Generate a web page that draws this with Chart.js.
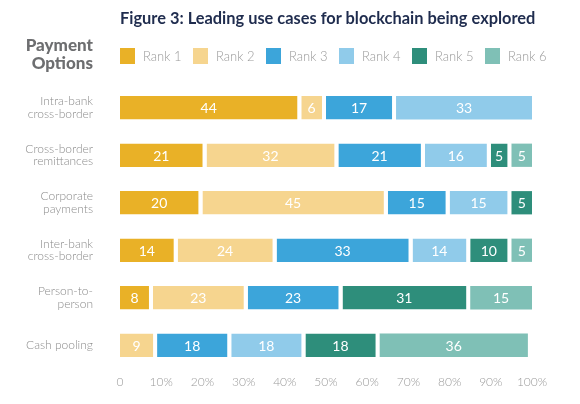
<!DOCTYPE html>
<html lang="en">
<head>
    <meta charset="UTF-8">
    <title>Leading use cases for blockchain</title>
    <script src="https://cdn.jsdelivr.net/npm/chart.js"></script>
    <style>
        html, body { margin: 0; padding: 0; background: #fff; }
        #wrap { position: relative; width: 580px; height: 404px; font-family: "Lato", "Open Sans", sans-serif; }
        #chart { position: absolute; left: 0; top: 0; }
        .title { position: absolute; left: 120px; top: 8px; font-size: 16.4px; font-weight: 700; color: #1f2c4e; white-space: nowrap; }
        .side { position: absolute; right: 487px; top: 36px; font-size: 17px; font-weight: 900; color: #6d6e70; text-align: right; line-height: 18px; }
        #legend { position: absolute; left: 120px; top: 48px; }
        .item { position: absolute; top: 0; white-space: nowrap; font-size: 13px; color: #9a9a9a; font-weight: 300; line-height: 16px; }
        .item span { display: inline-block; width: 15px; height: 16px; vertical-align: top; margin-right: 8px; }
    </style>
</head>
<body>
<div id="wrap">
    <canvas id="chart" width="580" height="404"></canvas>
    <div class="title">Figure 3: Leading use cases for blockchain being explored</div>
    <div class="side">Payment<br>Options</div>
    <div id="legend"></div>
</div>

<script>
// categories (top to bottom)
const categories = [
    ["Intra-bank", "cross-border"],
    ["Cross-border", "remittances"],
    ["Corporate", "payments"],
    ["Inter-bank", "cross-border"],
    ["Person-to-", "person"],
    "Cash pooling"
];

// share of respondents per rank, %
const rank1 = [44, 21, 20, 14, 8, 0];
const rank2 = [6, 32, 45, 24, 23, 9];
const rank3 = [17, 21, 15, 33, 23, 18];
const rank4 = [33, 16, 15, 14, 0, 18];
const rank5 = [0, 5, 5, 10, 31, 18];
const rank6 = [0, 5, 0, 5, 15, 36];

const rankNames = ["Rank 1", "Rank 2", "Rank 3", "Rank 4", "Rank 5", "Rank 6"];
const rankColors = ["#e9b127", "#f6d58f", "#3ca5da", "#90cbea", "#2e8e7b", "#7fc0b6"];
const xTickLabels = ["0", "10%", "20%", "30%", "40%", "50%", "60%", "70%", "80%", "90%", "100%"];

const allRanks = [rank1, rank2, rank3, rank4, rank5, rank6];

// white gap to the right of each segment, except the last one in the row
function gapBorder(ctx) {
    const i = ctx.dataIndex, d = ctx.datasetIndex;
    let last = true;
    for (let k = d + 1; k < allRanks.length; k++) {
        if (allRanks[k][i] > 0) last = false;
    }
    return { top: 0, bottom: 0, left: 0, right: last ? 0 : 4 };
}

// numbers in the middle of each segment
const segmentLabels = {
    id: "segmentLabels",
    afterDatasetsDraw(chart) {
        const ctx = chart.ctx;
        ctx.save();
        ctx.font = "400 14px Lato, 'Open Sans', sans-serif";
        ctx.fillStyle = "#ffffff";
        ctx.textAlign = "center";
        ctx.textBaseline = "middle";
        chart.data.datasets.forEach((ds, d) => {
            const meta = chart.getDatasetMeta(d);
            meta.data.forEach((bar, i) => {
                const v = ds.data[i];
                if (!v) return;
                const gap = gapBorder({ dataIndex: i, datasetIndex: d }).right;
                ctx.fillText(v, (bar.base + bar.x - gap) / 2, bar.y + 1);
            });
        });
        ctx.restore();
    }
};

// html legend
const legendBox = document.getElementById("legend");
rankNames.forEach((name, i) => {
    const el = document.createElement("div");
    el.className = "item";
    el.style.left = (i * 73) + "px";
    el.innerHTML = '<span style="background:' + rankColors[i] + '"></span>' + name;
    legendBox.appendChild(el);
});

new Chart(document.getElementById("chart"), {
    type: "bar",
    data: {
        labels: categories,
        datasets: allRanks.map((vals, i) => ({
            label: rankNames[i],
            data: vals,
            backgroundColor: rankColors[i],
            borderColor: "#ffffff",
            borderWidth: gapBorder,
            borderSkipped: false,
            barPercentage: 0.49,
            categoryPercentage: 1
        }))
    },
    options: {
        indexAxis: "y",
        responsive: false,
        animation: false,
        layout: { padding: { top: 84, bottom: 0, left: 0, right: 48 } },
        plugins: {
            legend: { display: false },
            tooltip: { enabled: false }
        },
        scales: {
            x: {
                stacked: true,
                min: 0,
                max: 100,
                grid: { display: false, drawTicks: false },
                border: { display: false },
                afterFit: (scale) => { scale.height = 35; },
                ticks: {
                    stepSize: 10,
                    padding: 6,
                    color: "#9a9a9a",
                    font: { family: "Lato", size: 12, weight: "300" },
                    callback: (v, i) => xTickLabels[i]
                }
            },
            y: {
                stacked: true,
                grid: { display: false, drawTicks: false },
                border: { display: false },
                afterFit: (scale) => {
                    scale.width = 120;
                    scale.paddingTop = 0;
                    scale.paddingBottom = 0;
                },
                ticks: {
                    padding: 27,
                    color: "#8c8c8c",
                    font: { family: "Lato", size: 12, weight: "300", lineHeight: 1.05 }
                }
            }
        }
    },
    plugins: [segmentLabels]
});
</script>
</body>
</html>
